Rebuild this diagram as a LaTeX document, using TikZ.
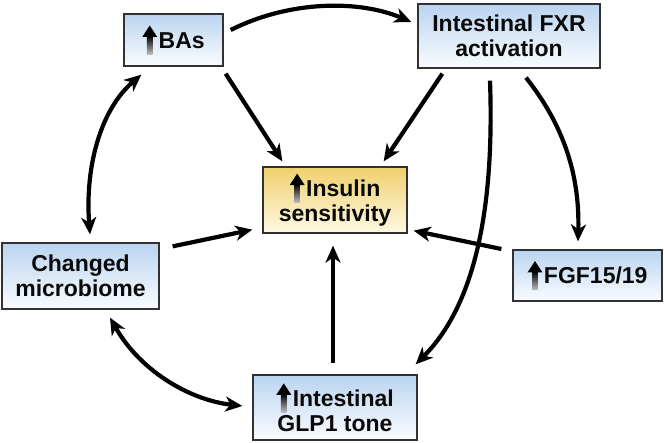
\documentclass[tikz,border=0pt]{standalone}
\usepackage{fontspec}
\setmainfont{Liberation Sans}
\usetikzlibrary{arrows.meta}
\definecolor{boxtop}{RGB}{186,212,240}
\definecolor{boxbot}{RGB}{250,252,255}
\definecolor{instop}{RGB}{240,208,108}
\definecolor{insbot}{RGB}{254,249,228}
\definecolor{edge}{RGB}{50,50,50}
\definecolor{ink}{RGB}{10,10,10}
\newcommand{\uparr}{\tikz[baseline=0pt,x=1pt,y=1pt,line width=0pt]{%
  \shade[top color=black,bottom color=black!25] (-2.8,-6) rectangle (2.8,12.5);
  \fill[black] (0,23) -- (-7.5,11.5) -- (7.5,11.5) -- cycle;}\hspace{1.5pt}}
\tikzset{
  box/.style={draw=edge, line width=1.3pt, rectangle, inner sep=0pt, align=center,
    font=\fontsize{23}{25}\selectfont\bfseries, text=ink,
    top color=boxtop, bottom color=boxbot},
  insbox/.style={box, top color=instop, bottom color=insbot},
  conn/.style={line width=4.2pt, draw=black, -{Stealth[length=17pt,width=15pt,inset=5pt]}},
  biconn/.style={conn, {Stealth[length=17pt,width=15pt,inset=5pt]}-{Stealth[length=17pt,width=15pt,inset=5pt]}}
}
\begin{document}
\begin{tikzpicture}[x=1pt,y=-1pt]
\useasboundingbox (0,0) rectangle (664,443);
\node[box, minimum width=99pt, minimum height=52pt] (bas) at (173.5,40) {\uparr BAs};
\node[box, minimum width=182pt, minimum height=64pt] (fxr) at (509,36) {Intestinal FXR\\activation};
\node[insbox, minimum width=144pt, minimum height=66pt] (ins) at (335,200) {\uparr Insulin\\sensitivity};
\node[box, minimum width=157pt, minimum height=66pt] (mic) at (80.5,276) {Changed\\microbiome};
\node[box, minimum width=149pt, minimum height=51pt] (fgf) at (587.5,275.5) {\uparr FGF15/19};
\node[box, minimum width=164pt, minimum height=65pt] (glp) at (335,407.5) {\uparr Intestinal\\GLP1 tone};

\draw[conn] ([shift={(7,-10)}]bas.east) .. controls +(60,-30) and +(-52,-22) .. ([shift={(-6,-14)}]fxr.west);
\draw[conn] ([shift={(2,7)}]bas.south east) -- ([shift={(20,-5)}]ins.north west);
\draw[conn] ([shift={(25,5)}]fxr.south west) -- ([shift={(-24,-5)}]ins.north east);
\draw[conn] ([shift={(-19,12)}]fxr.south) .. controls +(5,140) and +(55,-55) .. ([shift={(-2,-10)}]glp.north east);
\draw[conn] ([shift={(17,9)}]fxr.south) .. controls +(34,43) and +(2,-72) .. ([shift={(-9.5,-8)}]fgf.north);
\draw[conn] ([shift={(-11,-26.5)}]fgf.west) -- ([shift={(6,-3)}]ins.south east);
\draw[conn] ([shift={(13,4)}]mic.north east) -- ([shift={(-10,-4)}]ins.south west);
\draw[conn] ([shift={(-2,-11)}]glp.north) -- ([shift={(-2,12)}]ins.south);
\draw[biconn] ([shift={(18,8)}]bas.south west) .. controls +(-42,36) and +(-5,-65) .. ([shift={(9.5,-8)}]mic.north);
\draw[biconn] ([shift={(29.5,8)}]mic.south) .. controls +(30,53) and +(-53,-6) .. ([shift={(-10,-1.5)}]glp.west);
\end{tikzpicture}
\end{document}
